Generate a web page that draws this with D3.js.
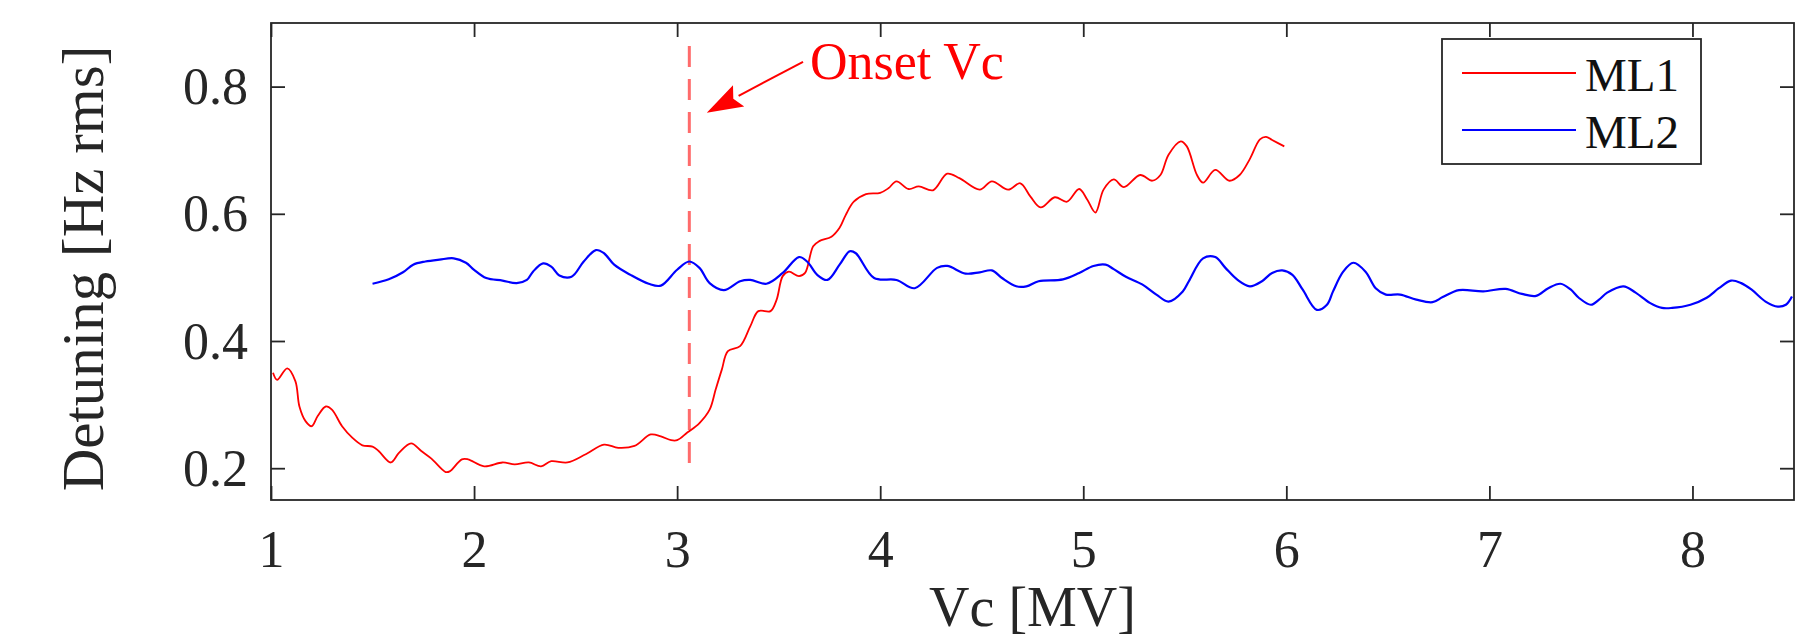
<!DOCTYPE html>
<html>
<head>
<meta charset="utf-8">
<script src="https://cdn.jsdelivr.net/npm/d3@7"></script>
<style>
  body { margin: 0; background: #fff; }
  svg { display: block; font-family: "Liberation Serif", "Times New Roman", serif; }
</style>
</head>
<body>
<div id="chart-container"></div>
<script>
// ML1 (red)
const vcML1 = [1.01, 1.03, 1.08, 1.12, 1.14, 1.17, 1.20, 1.23, 1.27, 1.30, 1.35, 1.40, 1.45, 1.50, 1.53, 1.59, 1.63, 1.69, 1.74, 1.79,
  1.86, 1.88, 1.94, 1.97, 2.05, 2.14, 2.20, 2.27, 2.33, 2.38, 2.46, 2.55, 2.64, 2.71, 2.79, 2.87, 2.92, 2.97, 3.00, 3.05,
  3.11, 3.16, 3.19, 3.22, 3.25, 3.31, 3.36, 3.40, 3.46, 3.49, 3.52, 3.55, 3.60, 3.63, 3.67, 3.70, 3.76, 3.80, 3.83, 3.87,
  3.93, 4.00, 4.04, 4.08, 4.14, 4.19, 4.26, 4.33, 4.39, 4.49, 4.55, 4.63, 4.69, 4.74, 4.79, 4.86, 4.92, 4.98, 5.02, 5.06,
  5.10, 5.15, 5.20, 5.28, 5.34, 5.38, 5.42, 5.48, 5.51, 5.56, 5.59, 5.65, 5.72, 5.77, 5.82, 5.87, 5.90, 5.93, 5.99];
const detML1 = [0.350, 0.339, 0.357, 0.337, 0.297, 0.274, 0.266, 0.282, 0.297, 0.292, 0.266, 0.248, 0.236, 0.234, 0.227, 0.209, 0.224, 0.239, 0.227, 0.215,
  0.194, 0.195, 0.214, 0.214, 0.203, 0.209, 0.206, 0.209, 0.203, 0.211, 0.209, 0.222, 0.237, 0.232, 0.235, 0.253, 0.250, 0.244, 0.244, 0.256,
  0.271, 0.292, 0.324, 0.355, 0.384, 0.392, 0.423, 0.447, 0.447, 0.465, 0.502, 0.509, 0.502, 0.507, 0.549, 0.557, 0.564, 0.578, 0.598, 0.619,
  0.631, 0.633, 0.640, 0.651, 0.639, 0.643, 0.637, 0.663, 0.656, 0.638, 0.651, 0.638, 0.648, 0.627, 0.610, 0.626, 0.619, 0.639, 0.622, 0.602,
  0.638, 0.654, 0.642, 0.661, 0.652, 0.661, 0.693, 0.714, 0.706, 0.661, 0.649, 0.669, 0.652, 0.661, 0.686, 0.717, 0.721, 0.716, 0.706];

// ML2 (blue)
const vcML2 = [1.50, 1.58, 1.65, 1.70, 1.76, 1.83, 1.90, 1.96, 2.00, 2.06, 2.14, 2.21, 2.26, 2.29, 2.34, 2.38, 2.42, 2.48, 2.54, 2.60,
  2.64, 2.69, 2.77, 2.86, 2.92, 3.00, 3.06, 3.11, 3.16, 3.23, 3.31, 3.36, 3.44, 3.52, 3.60, 3.64, 3.69, 3.74, 3.80, 3.85,
  3.88, 3.97, 4.08, 4.17, 4.28, 4.33, 4.42, 4.49, 4.55, 4.60, 4.67, 4.72, 4.78, 4.90, 4.98, 5.05, 5.11, 5.15, 5.21, 5.29,
  5.36, 5.42, 5.49, 5.52, 5.59, 5.65, 5.70, 5.76, 5.82, 5.88, 5.93, 5.98, 6.03, 6.08, 6.15, 6.20, 6.23, 6.28, 6.33, 6.39,
  6.44, 6.49, 6.56, 6.64, 6.72, 6.77, 6.85, 6.97, 7.08, 7.16, 7.23, 7.29, 7.35, 7.40, 7.44, 7.50, 7.54, 7.58, 7.66, 7.72,
  7.79, 7.85, 7.90, 7.99, 8.07, 8.13, 8.19, 8.24, 8.29, 8.36, 8.42, 8.46, 8.49];
const detML2 = [0.490, 0.497, 0.508, 0.520, 0.525, 0.528, 0.530, 0.523, 0.512, 0.499, 0.495, 0.491, 0.496, 0.509, 0.522, 0.517, 0.503, 0.501, 0.525, 0.543,
  0.538, 0.520, 0.504, 0.490, 0.487, 0.512, 0.525, 0.515, 0.491, 0.480, 0.494, 0.496, 0.490, 0.507, 0.532, 0.525, 0.504, 0.496, 0.520, 0.541,
  0.538, 0.499, 0.496, 0.483, 0.515, 0.518, 0.506, 0.508, 0.511, 0.499, 0.486, 0.486, 0.494, 0.497, 0.507, 0.518, 0.520, 0.513, 0.501, 0.489,
  0.473, 0.462, 0.478, 0.494, 0.530, 0.532, 0.515, 0.496, 0.486, 0.494, 0.507, 0.511, 0.504, 0.481, 0.449, 0.457, 0.478, 0.509, 0.523, 0.509,
  0.483, 0.473, 0.473, 0.465, 0.461, 0.469, 0.480, 0.478, 0.482, 0.474, 0.471, 0.483, 0.490, 0.481, 0.468, 0.457, 0.465, 0.476, 0.486, 0.476,
  0.460, 0.452, 0.452, 0.457, 0.468, 0.483, 0.495, 0.491, 0.481, 0.462, 0.454, 0.457, 0.470];

const xTicks = [1, 2, 3, 4, 5, 6, 7, 8];
const yTicks = [0.2, 0.4, 0.6, 0.8];
const xDomain = [1, 8.5];
const yDomain = [0.15, 0.9];

const seriesNames = ["ML1", "ML2"];
const seriesColors = ["#ff0000", "#0000ff"];

// onset annotation, in data units
const onsetVc = 3.06;
const onsetSpan = [0.195, 0.864];
const arrowFrom = [3.62, 0.839];
const arrowTo = [3.146, 0.759];
const onsetLabel = "Onset Vc";
const onsetLabelPos = [3.654, 0.812];

const W = 1806, H = 640;
const margin = {top: 23, right: 12, bottom: 140, left: 271};
const width = W - margin.left - margin.right;
const height = H - margin.top - margin.bottom;
const axisColor = "#262626";

const svg = d3.select("#chart-container")
  .append("svg")
  .attr("width", W)
  .attr("height", H)
  .append("g")
  .attr("transform", `translate(${margin.left},${margin.top})`);

const x = d3.scaleLinear().domain(xDomain).range([0, width]);
const y = d3.scaleLinear().domain(yDomain).range([height, 0]);

const series = [
  {name: seriesNames[0], color: seriesColors[0], pts: vcML1.map((v, i) => [v, detML1[i]])},
  {name: seriesNames[1], color: seriesColors[1], pts: vcML2.map((v, i) => [v, detML2[i]])}
];

const line = d3.line()
  .x(d => x(d[0]))
  .y(d => y(d[1]))
  .curve(d3.curveCatmullRom.alpha(0.5));

// onset dashed line
svg.append("line")
  .attr("x1", x(onsetVc)).attr("x2", x(onsetVc))
  .attr("y1", y(onsetSpan[1])).attr("y2", y(onsetSpan[0]))
  .attr("stroke", "#ff6b6b")
  .attr("stroke-width", 3)
  .attr("stroke-dasharray", "21,12");

series.forEach(s => {
  svg.append("path")
    .datum(s.pts)
    .attr("fill", "none")
    .attr("stroke", s.color)
    .attr("stroke-width", s.name === "ML1" ? 1.8 : 2.2)
    .attr("stroke-linejoin", "round")
    .attr("d", line);
});

// axes, ticks pointing inward on all four sides
function styleAxis(g) {
  g.select(".domain").remove();
  g.selectAll(".tick line").attr("stroke", axisColor).attr("stroke-width", 1.8);
  g.selectAll("text").attr("fill", axisColor).attr("font-family", "Liberation Serif, serif");
}

svg.append("g")
  .attr("transform", `translate(0,${height})`)
  .call(d3.axisBottom(x).tickValues(xTicks).tickSize(-14).tickFormat(d3.format("d")))
  .call(styleAxis)
  .call(g => g.selectAll("text").attr("y", 67).attr("dy", 0).attr("font-size", 52));

svg.append("g")
  .call(d3.axisTop(x).tickValues(xTicks).tickSize(-14).tickFormat(""))
  .call(styleAxis);

svg.append("g")
  .call(d3.axisLeft(y).tickValues(yTicks).tickSize(-14).tickFormat(d3.format(".1f")))
  .call(styleAxis)
  .call(g => g.selectAll("text").attr("x", -23).attr("dy", "0.33em").attr("font-size", 52));

svg.append("g")
  .attr("transform", `translate(${width},0)`)
  .call(d3.axisRight(y).tickValues(yTicks).tickSize(-14).tickFormat(""))
  .call(styleAxis);

svg.append("rect")
  .attr("width", width)
  .attr("height", height)
  .attr("fill", "none")
  .attr("stroke", axisColor)
  .attr("stroke-width", 1.8);

// axis titles
svg.append("text")
  .attr("x", width / 2)
  .attr("y", 626 - margin.top)
  .attr("text-anchor", "middle")
  .attr("font-size", 56)
  .attr("fill", axisColor)
  .text("Vc [MV]");

svg.append("text")
  .attr("transform", `translate(${103 - margin.left},${height / 2 + 7})rotate(-90)`)
  .attr("text-anchor", "middle")
  .attr("font-size", 59)
  .attr("fill", axisColor)
  .text("Detuning [Hz rms]");

// annotation arrow
const ax0 = x(arrowFrom[0]), ay0 = y(arrowFrom[1]);
const ax1 = x(arrowTo[0]), ay1 = y(arrowTo[1]);
const ang = Math.atan2(ay1 - ay0, ax1 - ax0);
const headLen = 36, headHalf = 12;
const bx = ax1 - headLen * Math.cos(ang), by = ay1 - headLen * Math.sin(ang);

svg.append("line")
  .attr("x1", ax0).attr("y1", ay0)
  .attr("x2", bx).attr("y2", by)
  .attr("stroke", "#ff0000")
  .attr("stroke-width", 2);

svg.append("path")
  .attr("d", `M${ax1},${ay1}` +
    `L${bx + headHalf * Math.sin(ang)},${by - headHalf * Math.cos(ang)}` +
    `L${bx + 6 * Math.cos(ang)},${by + 6 * Math.sin(ang)}` +
    `L${bx - headHalf * Math.sin(ang)},${by + headHalf * Math.cos(ang)}Z`)
  .attr("fill", "#ff0000");

svg.append("text")
  .attr("x", x(onsetLabelPos[0]))
  .attr("y", y(onsetLabelPos[1]))
  .attr("font-size", 52)
  .attr("fill", "#ff0000")
  .text(onsetLabel);

// legend
const legend = svg.append("g")
  .attr("transform", `translate(${1442 - margin.left},${39 - margin.top})`);

legend.append("rect")
  .attr("width", 259)
  .attr("height", 125)
  .attr("fill", "#fff")
  .attr("stroke", axisColor)
  .attr("stroke-width", 1.8);

const items = legend.selectAll(".legend")
  .data(series)
  .enter()
  .append("g")
  .attr("class", "legend")
  .attr("transform", (d, i) => `translate(0,${34 + i * 57})`);

items.append("line")
  .attr("x1", 20).attr("x2", 134)
  .attr("stroke", d => d.color)
  .attr("stroke-width", 2);

items.append("text")
  .attr("x", 143)
  .attr("y", 18)
  .attr("font-size", 47)
  .attr("fill", "#111")
  .text(d => d.name);
</script>
</body>
</html>
